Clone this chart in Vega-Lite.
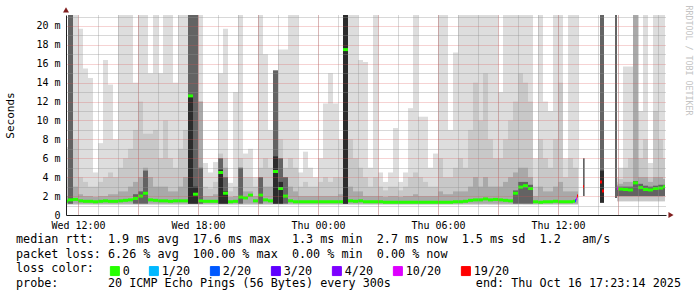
{
"$schema": "https://vega.github.io/schema/vega-lite/v6.json",
"width": 600, "height": 200,
"autosize": {"type": "none"},
"padding": {"left": 66, "top": 15, "right": 31, "bottom": 82},
"background": "white",
"config": {"view": {"stroke": null}, "font": "DejaVu Sans Mono"},
"title": {
 "text": ["median\u00a0rtt:\u00a0\u00a01.9\u00a0ms\u00a0avg\u00a0\u00a017.6\u00a0ms\u00a0max\u00a0\u00a0\u00a01.3\u00a0ms\u00a0min\u00a0\u00a02.7\u00a0ms\u00a0now\u00a0\u00a01.5\u00a0ms\u00a0sd\u00a0\u00a01.2\u00a0\u00a0\u00a0am/s",
          "packet\u00a0loss:\u00a06.26\u00a0%\u00a0avg\u00a0\u00a0100.00\u00a0%\u00a0max\u00a0\u00a00.00\u00a0%\u00a0min\u00a0\u00a00.00\u00a0%\u00a0now",
          "loss\u00a0color:",
          "probe:\u00a0\u00a0\u00a0\u00a0\u00a0\u00a0\u00a020\u00a0ICMP\u00a0Echo\u00a0Pings\u00a0(56\u00a0Bytes)\u00a0every\u00a0300s\u00a0\u00a0\u00a0\u00a0\u00a0\u00a0\u00a0\u00a0\u00a0\u00a0\u00a0\u00a0end:\u00a0Thu\u00a0Oct\u00a016\u00a017:23:14\u00a02025"],
 "orient": "bottom", "anchor": "start", "frame": "group", "align": "left", "dx": -50, "dy": -50, "offset": 6, "baseline": "top",
 "font": "DejaVu Sans Mono", "fontSize": 11.75, "fontWeight": "normal", "color": "#000000", "lineHeight": 14.5
},
"datasets": {"smoke": [
{"t":"2025-10-15T11:15","t2":"2025-10-15T11:30","lo":1.1,"lo2":1.2,"L":7.2,"M":4,"D":2,"med":1.45,"loss":"0"},
{"t":"2025-10-15T11:30","t2":"2025-10-15T11:45","lo":1.1,"lo2":1.2,"L":21.2,"M":21.2,"D":21.2,"K":21.2,"med":1.6,"loss":"0"},
{"t":"2025-10-15T11:45","t2":"2025-10-15T12:00","lo":1.1,"lo2":1.2,"L":21.2,"M":8,"D":3,"med":1.65,"loss":"0"},
{"t":"2025-10-15T12:00","t2":"2025-10-15T12:15","lo":1.1,"lo2":1.2,"L":19.7,"M":4,"D":2.2,"med":1.5,"loss":"0"},
{"t":"2025-10-15T12:15","t2":"2025-10-15T12:30","lo":1.1,"lo2":1.2,"L":15.5,"M":3.5,"D":2,"med":1.45,"loss":"0"},
{"t":"2025-10-15T12:30","t2":"2025-10-15T12:45","lo":1.1,"lo2":1.2,"L":14.5,"M":3,"D":2,"med":1.45,"loss":"0"},
{"t":"2025-10-15T12:45","t2":"2025-10-15T13:00","lo":1.1,"lo2":1.2,"L":4.5,"M":3,"D":1.9,"med":1.4,"loss":"0"},
{"t":"2025-10-15T13:00","t2":"2025-10-15T13:15","lo":1.1,"lo2":1.2,"L":7.6,"M":3.5,"D":2,"med":1.45,"loss":"0"},
{"t":"2025-10-15T13:15","t2":"2025-10-15T13:30","lo":1.1,"lo2":1.2,"L":16.4,"M":4,"D":2,"med":1.5,"loss":"0"},
{"t":"2025-10-15T13:30","t2":"2025-10-15T13:45","lo":1.1,"lo2":1.2,"L":13.8,"M":4.5,"D":2.2,"med":1.45,"loss":"0"},
{"t":"2025-10-15T13:45","t2":"2025-10-15T14:00","lo":1.1,"lo2":1.2,"L":8,"M":4,"D":2.2,"med":1.45,"loss":"0"},
{"t":"2025-10-15T14:00","t2":"2025-10-15T14:15","lo":1.1,"lo2":1.2,"L":21.2,"M":5,"D":2.5,"med":1.5,"loss":"0"},
{"t":"2025-10-15T14:15","t2":"2025-10-15T14:30","lo":1.1,"lo2":1.2,"L":21.2,"M":6,"D":2.5,"med":1.55,"loss":"0"},
{"t":"2025-10-15T14:30","t2":"2025-10-15T14:45","lo":1.1,"lo2":1.2,"L":21.2,"M":7,"D":3,"med":1.6,"loss":"0"},
{"t":"2025-10-15T14:45","t2":"2025-10-15T15:00","lo":1.1,"lo2":1.2,"L":14,"M":9,"D":3.5,"K":2.2,"med":1.75,"loss":"0"},
{"t":"2025-10-15T15:00","t2":"2025-10-15T15:15","lo":1.1,"lo2":1.2,"L":21.2,"M":12,"D":4,"K":2.5,"med":2.0,"loss":"0"},
{"t":"2025-10-15T15:15","t2":"2025-10-15T15:30","lo":1.1,"lo2":1.2,"L":21.2,"M":8.6,"D":5,"K":4.7,"med":2.3,"loss":"0"},
{"t":"2025-10-15T15:30","t2":"2025-10-15T15:45","lo":1.1,"lo2":1.2,"L":15,"M":8.6,"D":4,"med":1.6,"loss":"0"},
{"t":"2025-10-15T15:45","t2":"2025-10-15T16:00","lo":1.1,"lo2":1.2,"L":21.2,"M":9,"D":3,"med":1.55,"loss":"0"},
{"t":"2025-10-15T16:00","t2":"2025-10-15T16:15","lo":1.1,"lo2":1.2,"L":15,"M":6,"D":3,"med":1.5,"loss":"0"},
{"t":"2025-10-15T16:15","t2":"2025-10-15T16:30","lo":1.1,"lo2":1.2,"L":21.2,"M":10,"D":3,"med":1.5,"loss":"0"},
{"t":"2025-10-15T16:30","t2":"2025-10-15T16:45","lo":1.1,"lo2":1.2,"L":21.2,"M":6,"D":2.5,"med":1.45,"loss":"0"},
{"t":"2025-10-15T16:45","t2":"2025-10-15T17:00","lo":1.1,"lo2":1.2,"L":14,"M":5,"D":2.5,"med":1.5,"loss":"0"},
{"t":"2025-10-15T17:00","t2":"2025-10-15T17:15","lo":1.1,"lo2":1.2,"L":21.2,"M":7,"D":3,"med":1.5,"loss":"0"},
{"t":"2025-10-15T17:15","t2":"2025-10-15T17:30","lo":1.1,"lo2":1.2,"L":21.2,"M":9,"D":4,"med":1.5,"loss":"0"},
{"t":"2025-10-15T17:30","t2":"2025-10-15T17:45","lo":1.1,"lo2":1.2,"L":21.2,"M":21.2,"D":21.2,"K":21.2,"X":12.6,"med":12.6,"loss":"0"},
{"t":"2025-10-15T17:45","t2":"2025-10-15T18:00","lo":1.1,"lo2":1.2,"L":21.2,"M":21.2,"D":21.2,"K":21.2,"X":3,"med":2.2,"loss":"0"},
{"t":"2025-10-15T18:00","t2":"2025-10-15T18:15","lo":1.1,"lo2":1.2,"L":21.2,"M":12,"D":12,"K":5,"med":1.5,"loss":"0"},
{"t":"2025-10-15T18:15","t2":"2025-10-15T18:30","lo":1.1,"lo2":1.2,"L":5.5,"M":3,"D":2,"med":1.45,"loss":"0"},
{"t":"2025-10-15T18:30","t2":"2025-10-15T18:45","lo":1.1,"lo2":1.2,"L":4.5,"M":2.8,"D":2,"med":1.45,"loss":"0"},
{"t":"2025-10-15T18:45","t2":"2025-10-15T19:00","lo":1.1,"lo2":1.2,"L":5.6,"M":3.5,"D":2.2,"med":1.45,"loss":"0"},
{"t":"2025-10-15T19:00","t2":"2025-10-15T19:15","lo":1.1,"lo2":1.2,"L":15,"M":6.5,"D":6,"K":6,"X":4.8,"med":4.5,"loss":"0"},
{"t":"2025-10-15T19:15","t2":"2025-10-15T19:30","lo":1.1,"lo2":1.2,"L":19.7,"M":6,"D":5,"K":4,"X":2.5,"med":2.3,"loss":"0"},
{"t":"2025-10-15T19:30","t2":"2025-10-15T19:45","lo":1.1,"lo2":1.2,"L":3.4,"M":2.5,"D":1.9,"med":1.4,"loss":"0"},
{"t":"2025-10-15T19:45","t2":"2025-10-15T20:00","lo":1.1,"lo2":1.2,"L":13,"M":3,"D":2,"med":1.45,"loss":"0"},
{"t":"2025-10-15T20:00","t2":"2025-10-15T20:15","lo":1.1,"lo2":1.2,"L":21.2,"M":6,"D":5,"K":5,"med":1.9,"loss":"0"},
{"t":"2025-10-15T20:15","t2":"2025-10-15T20:30","lo":1.1,"lo2":1.2,"L":6.5,"M":4,"D":2.5,"med":1.8,"loss":"0"},
{"t":"2025-10-15T20:30","t2":"2025-10-15T20:45","lo":1.1,"lo2":1.2,"L":7,"M":4,"D":2.5,"med":2.1,"loss":"0"},
{"t":"2025-10-15T20:45","t2":"2025-10-15T21:00","lo":1.1,"lo2":1.2,"L":4,"M":3,"D":2,"med":1.5,"loss":"0"},
{"t":"2025-10-15T21:00","t2":"2025-10-15T21:15","lo":1.1,"lo2":1.2,"L":21.2,"M":5,"D":4,"K":4,"med":2.1,"loss":"0"},
{"t":"2025-10-15T21:15","t2":"2025-10-15T21:30","lo":1.1,"lo2":1.2,"L":17,"M":6,"D":3,"med":1.6,"loss":"0"},
{"t":"2025-10-15T21:30","t2":"2025-10-15T21:45","lo":1.1,"lo2":1.2,"L":9,"M":5,"D":3,"med":1.5,"loss":"0"},
{"t":"2025-10-15T21:45","t2":"2025-10-15T22:00","lo":1.1,"lo2":1.2,"L":15.3,"M":15.3,"D":15.3,"K":15.3,"X":6.2,"med":4.6,"loss":"0"},
{"t":"2025-10-15T22:00","t2":"2025-10-15T22:15","lo":1.1,"lo2":1.2,"L":17.5,"M":8,"D":6,"K":6,"X":3.5,"med":2.8,"loss":"0"},
{"t":"2025-10-15T22:15","t2":"2025-10-15T22:30","lo":1.1,"lo2":1.2,"L":17.5,"M":5,"D":4,"K":4,"med":2.0,"loss":"0"},
{"t":"2025-10-15T22:30","t2":"2025-10-15T22:45","lo":1.1,"lo2":1.2,"L":21.2,"M":6,"D":3,"med":1.5,"loss":"0"},
{"t":"2025-10-15T22:45","t2":"2025-10-15T23:00","lo":1.1,"lo2":1.2,"L":21.2,"M":5,"D":2.5,"med":1.4,"loss":"0"},
{"t":"2025-10-15T23:00","t2":"2025-10-15T23:15","lo":1.1,"lo2":1.2,"L":4.5,"M":3,"D":2,"med":1.4,"loss":"0"},
{"t":"2025-10-15T23:15","t2":"2025-10-15T23:30","lo":1.1,"lo2":1.2,"L":6.7,"M":3.5,"D":2,"med":1.4,"loss":"0"},
{"t":"2025-10-15T23:30","t2":"2025-10-15T23:45","lo":1.1,"lo2":1.2,"L":5,"M":3,"D":2,"med":1.4,"loss":"0"},
{"t":"2025-10-15T23:45","t2":"2025-10-16T00:00","lo":1.1,"lo2":1.2,"L":4,"M":3,"D":2,"med":1.4,"loss":"0"},
{"t":"2025-10-16T00:00","t2":"2025-10-16T00:15","lo":1.1,"lo2":1.2,"L":6,"M":3.5,"D":2,"med":1.4,"loss":"0"},
{"t":"2025-10-16T00:15","t2":"2025-10-16T00:30","lo":1.1,"lo2":1.2,"L":11.8,"M":4,"D":2,"med":1.4,"loss":"0"},
{"t":"2025-10-16T00:30","t2":"2025-10-16T00:45","lo":1.1,"lo2":1.2,"L":15,"M":3.5,"D":2,"med":1.4,"loss":"0"},
{"t":"2025-10-16T00:45","t2":"2025-10-16T01:00","lo":1.1,"lo2":1.2,"L":11.8,"M":4,"D":2,"med":1.4,"loss":"0"},
{"t":"2025-10-16T01:00","t2":"2025-10-16T01:15","lo":1.1,"lo2":1.2,"L":8,"M":4,"D":2.2,"med":1.4,"loss":"0"},
{"t":"2025-10-16T01:15","t2":"2025-10-16T01:30","lo":1.1,"lo2":1.2,"L":21.2,"M":21.2,"D":21.2,"K":21.2,"X":21.2,"med":17.5,"loss":"0"},
{"t":"2025-10-16T01:30","t2":"2025-10-16T01:45","lo":1.1,"lo2":1.2,"L":21.2,"M":8,"D":3,"med":1.5,"loss":"0"},
{"t":"2025-10-16T01:45","t2":"2025-10-16T02:00","lo":1.1,"lo2":1.2,"L":21.2,"M":6,"D":2.5,"med":1.45,"loss":"0"},
{"t":"2025-10-16T02:00","t2":"2025-10-16T02:15","lo":1.1,"lo2":1.2,"L":16.4,"M":5,"D":2.5,"med":1.5,"loss":"0"},
{"t":"2025-10-16T02:15","t2":"2025-10-16T02:30","lo":1.1,"lo2":1.2,"L":16.2,"M":4,"D":2,"med":1.4,"loss":"0"},
{"t":"2025-10-16T02:30","t2":"2025-10-16T02:45","lo":1.1,"lo2":1.2,"L":5,"M":3,"D":2,"med":1.4,"loss":"0"},
{"t":"2025-10-16T02:45","t2":"2025-10-16T03:00","lo":1.1,"lo2":1.2,"L":21.2,"M":4,"D":2,"med":1.4,"loss":"0"},
{"t":"2025-10-16T03:00","t2":"2025-10-16T03:15","lo":1.1,"lo2":1.2,"L":4.5,"M":3,"D":2,"med":1.4,"loss":"0"},
{"t":"2025-10-16T03:15","t2":"2025-10-16T03:30","lo":1.1,"lo2":1.2,"L":3.5,"M":2.6,"D":1.9,"med":1.35,"loss":"0"},
{"t":"2025-10-16T03:30","t2":"2025-10-16T03:45","lo":1.1,"lo2":1.2,"L":4.5,"M":3,"D":2,"med":1.35,"loss":"0"},
{"t":"2025-10-16T03:45","t2":"2025-10-16T04:00","lo":1.1,"lo2":1.2,"L":9.2,"M":3,"D":2,"med":1.35,"loss":"0"},
{"t":"2025-10-16T04:00","t2":"2025-10-16T04:15","lo":1.1,"lo2":1.2,"L":3.5,"M":2.6,"D":1.9,"med":1.35,"loss":"0"},
{"t":"2025-10-16T04:15","t2":"2025-10-16T04:30","lo":1.1,"lo2":1.2,"L":4.5,"M":3,"D":2,"med":1.35,"loss":"0"},
{"t":"2025-10-16T04:30","t2":"2025-10-16T04:45","lo":1.1,"lo2":1.2,"L":11.3,"M":4,"D":2,"med":1.35,"loss":"0"},
{"t":"2025-10-16T04:45","t2":"2025-10-16T05:00","lo":1.1,"lo2":1.2,"L":21.2,"M":4.5,"D":2.2,"med":1.35,"loss":"0"},
{"t":"2025-10-16T05:00","t2":"2025-10-16T05:15","lo":1.1,"lo2":1.2,"L":10.4,"M":4,"D":2,"med":1.35,"loss":"0"},
{"t":"2025-10-16T05:15","t2":"2025-10-16T05:30","lo":1.1,"lo2":1.2,"L":10.4,"M":3.5,"D":2,"med":1.35,"loss":"0"},
{"t":"2025-10-16T05:30","t2":"2025-10-16T05:45","lo":1.1,"lo2":1.2,"L":5,"M":3,"D":2,"med":1.35,"loss":"0"},
{"t":"2025-10-16T05:45","t2":"2025-10-16T06:00","lo":1.1,"lo2":1.2,"L":6.5,"M":3,"D":2,"med":1.35,"loss":"0"},
{"t":"2025-10-16T06:00","t2":"2025-10-16T06:15","lo":1.1,"lo2":1.2,"L":21.2,"M":6,"D":2.5,"med":1.35,"loss":"0"},
{"t":"2025-10-16T06:15","t2":"2025-10-16T06:30","lo":1.1,"lo2":1.2,"L":21.2,"M":4,"D":2.2,"med":1.35,"loss":"0"},
{"t":"2025-10-16T06:30","t2":"2025-10-16T06:45","lo":1.1,"lo2":1.2,"L":9,"M":4,"D":2.2,"med":1.35,"loss":"0"},
{"t":"2025-10-16T06:45","t2":"2025-10-16T07:00","lo":1.1,"lo2":1.2,"L":17.2,"M":5,"D":2.5,"med":1.4,"loss":"0"},
{"t":"2025-10-16T07:00","t2":"2025-10-16T07:15","lo":1.1,"lo2":1.2,"L":21.2,"M":6,"D":2.5,"med":1.4,"loss":"0"},
{"t":"2025-10-16T07:15","t2":"2025-10-16T07:30","lo":1.1,"lo2":1.2,"L":21.2,"M":5,"D":2.5,"med":1.45,"loss":"0"},
{"t":"2025-10-16T07:30","t2":"2025-10-16T07:45","lo":1.1,"lo2":1.2,"L":21.2,"M":9,"D":3,"med":1.55,"loss":"0"},
{"t":"2025-10-16T07:45","t2":"2025-10-16T08:00","lo":1.1,"lo2":1.2,"L":21.2,"M":14,"D":4,"med":1.6,"loss":"0"},
{"t":"2025-10-16T08:00","t2":"2025-10-16T08:15","lo":1.1,"lo2":1.2,"L":21.2,"M":10,"D":3,"med":1.6,"loss":"0"},
{"t":"2025-10-16T08:15","t2":"2025-10-16T08:30","lo":1.1,"lo2":1.2,"L":21.2,"M":15,"D":4,"med":1.7,"loss":"0"},
{"t":"2025-10-16T08:30","t2":"2025-10-16T08:45","lo":1.1,"lo2":1.2,"L":21.2,"M":8,"D":3,"med":1.6,"loss":"0"},
{"t":"2025-10-16T08:45","t2":"2025-10-16T09:00","lo":1.1,"lo2":1.2,"L":21.2,"M":6,"D":3,"med":1.65,"loss":"0"},
{"t":"2025-10-16T09:00","t2":"2025-10-16T09:15","lo":1.1,"lo2":1.2,"L":13,"M":6,"D":3,"med":1.6,"loss":"0"},
{"t":"2025-10-16T09:15","t2":"2025-10-16T09:30","lo":1.1,"lo2":1.2,"L":21.2,"M":8,"D":3.5,"med":1.55,"loss":"0"},
{"t":"2025-10-16T09:30","t2":"2025-10-16T09:45","lo":1.1,"lo2":1.2,"L":21.2,"M":10,"D":4,"med":1.5,"loss":"0"},
{"t":"2025-10-16T09:45","t2":"2025-10-16T10:00","lo":1.1,"lo2":1.2,"L":21.2,"M":12,"D":4.5,"K":2.6,"med":2.3,"loss":"0"},
{"t":"2025-10-16T10:00","t2":"2025-10-16T10:15","lo":1.1,"lo2":1.2,"L":21.2,"M":15,"D":5,"K":3.5,"med":2.95,"loss":"0"},
{"t":"2025-10-16T10:15","t2":"2025-10-16T10:30","lo":1.1,"lo2":1.2,"L":21.2,"M":14,"D":5,"K":3.5,"med":3.1,"loss":"0"},
{"t":"2025-10-16T10:30","t2":"2025-10-16T10:45","lo":1.1,"lo2":1.2,"L":21.2,"M":12,"D":4,"K":3.2,"med":2.8,"loss":"0"},
{"t":"2025-10-16T10:45","t2":"2025-10-16T11:00","lo":1.1,"lo2":1.2,"L":6,"M":3,"D":2,"med":1.4,"loss":"0"},
{"t":"2025-10-16T11:00","t2":"2025-10-16T11:15","lo":1.1,"lo2":1.2,"L":21.2,"M":8,"D":3,"med":1.35,"loss":"0"},
{"t":"2025-10-16T11:15","t2":"2025-10-16T11:30","lo":1.1,"lo2":1.2,"L":12,"M":6,"D":2.5,"med":1.4,"loss":"0"},
{"t":"2025-10-16T11:30","t2":"2025-10-16T11:45","lo":1.1,"lo2":1.2,"L":11,"M":5,"D":2.5,"med":1.4,"loss":"0"},
{"t":"2025-10-16T11:45","t2":"2025-10-16T12:00","lo":1.1,"lo2":1.2,"L":21.2,"M":8,"D":3,"med":1.45,"loss":"0"},
{"t":"2025-10-16T12:00","t2":"2025-10-16T12:15","lo":1.1,"lo2":1.2,"L":21.2,"M":14,"D":3.5,"med":1.4,"loss":"0"},
{"t":"2025-10-16T12:15","t2":"2025-10-16T12:30","lo":1.1,"lo2":1.2,"L":6,"M":4,"D":2.5,"med":1.4,"loss":"0"},
{"t":"2025-10-16T12:30","t2":"2025-10-16T12:45","lo":1.1,"lo2":1.2,"L":21.2,"M":6,"D":2.5,"med":1.4,"loss":"0"},
{"t":"2025-10-16T12:45","t2":"2025-10-16T13:00","lo":1.1,"lo2":1.2,"L":21.2,"M":5,"D":2.5},
{"t":"2025-10-16T12:45","t2":"2025-10-16T12:51","med":1.45,"loss":"0"},
{"t":"2025-10-16T12:51","t2":"2025-10-16T12:54","med":1.5,"loss":"2/20"},
{"t":"2025-10-16T12:54","t2":"2025-10-16T12:57","med":1.7,"loss":"10/20"},
{"t":"2025-10-16T12:57","t2":"2025-10-16T13:00","med":2.0,"loss":"19/20"},
{"t":"2025-10-16T13:15","t2":"2025-10-16T13:20","lo2":2.0,"K":6},
{"t":"2025-10-16T13:15","t2":"2025-10-16T13:18","med":3.0,"loss":"19/20"},
{"t":"2025-10-16T14:06","t2":"2025-10-16T14:18","lo2":1.3,"K":21.2,"X":4.7},
{"t":"2025-10-16T14:06","t2":"2025-10-16T14:12","med":3.5,"loss":"19/20"},
{"t":"2025-10-16T14:12","t2":"2025-10-16T14:18","med":2.55,"loss":"19/20"},
{"t":"2025-10-16T14:51","t2":"2025-10-16T14:57","lo2":1.8,"K":21.2},
{"t":"2025-10-16T14:57","t2":"2025-10-16T15:00","lo":1.45,"lo2":2.0,"L":4,"M":3.5,"D":3.2,"K":3.0,"med":2.8,"loss":"10/20"},
{"t":"2025-10-16T15:00","t2":"2025-10-16T15:15","lo":1.45,"lo2":2.0,"L":5,"M":3.8,"D":3.3,"K":3.0,"med":2.75,"loss":"0"},
{"t":"2025-10-16T15:15","t2":"2025-10-16T15:30","lo":1.45,"lo2":2.0,"L":15.7,"M":5,"D":3.5,"K":3.0,"med":2.7,"loss":"0"},
{"t":"2025-10-16T15:30","t2":"2025-10-16T15:45","lo":1.45,"lo2":2.0,"L":15.7,"M":6,"D":3.5,"K":3.0,"med":2.65,"loss":"0"},
{"t":"2025-10-16T15:45","t2":"2025-10-16T16:00","lo":1.45,"lo2":2.0,"L":21.2,"M":21.2,"D":21.2,"K":3.6,"med":3.4,"loss":"0"},
{"t":"2025-10-16T16:00","t2":"2025-10-16T16:15","lo":1.45,"lo2":2.0,"L":11,"M":6,"D":4,"K":3.3,"med":2.9,"loss":"0"},
{"t":"2025-10-16T16:15","t2":"2025-10-16T16:30","lo":1.45,"lo2":2.0,"L":21.2,"M":8,"D":4,"K":3.1,"med":2.7,"loss":"0"},
{"t":"2025-10-16T16:30","t2":"2025-10-16T16:45","lo":1.45,"lo2":2.0,"L":5.5,"M":4,"D":3.5,"K":3.0,"med":2.65,"loss":"0"},
{"t":"2025-10-16T16:45","t2":"2025-10-16T17:00","lo":1.45,"lo2":2.0,"L":21.2,"M":11,"D":4,"K":3.1,"med":2.8,"loss":"0"},
{"t":"2025-10-16T17:00","t2":"2025-10-16T17:15","lo":1.45,"lo2":2.0,"L":21.2,"M":8,"D":4,"K":3.2,"med":2.85,"loss":"0"},
{"t":"2025-10-16T17:15","t2":"2025-10-16T17:21","lo":1.45,"lo2":2.0,"L":21.2,"M":6,"D":3.8,"K":3.2,"med":3.0,"loss":"0"}
]},
"data": {"name": "smoke"},
"layer": [
 {
  "transform": [{"filter": "isValid(datum.L)"}],
  "mark": {"type": "rect", "color": "#dddddd", "clip": true},
  "encoding": {
   "x": {"field": "t", "type": "temporal",
         "scale": {"domain": [{"year": 2025, "month": 10, "date": 15, "hours": 11, "minutes": 24}, {"year": 2025, "month": 10, "date": 16, "hours": 17, "minutes": 24}]},
         "axis": {"orient": "bottom",
                  "values": [{"year":2025,"month":10,"date":15,"hours":12},{"year":2025,"month":10,"date":15,"hours":13},{"year":2025,"month":10,"date":15,"hours":14},{"year":2025,"month":10,"date":15,"hours":15},{"year":2025,"month":10,"date":15,"hours":16},{"year":2025,"month":10,"date":15,"hours":17},{"year":2025,"month":10,"date":15,"hours":18},{"year":2025,"month":10,"date":15,"hours":19},{"year":2025,"month":10,"date":15,"hours":20},{"year":2025,"month":10,"date":15,"hours":21},{"year":2025,"month":10,"date":15,"hours":22},{"year":2025,"month":10,"date":15,"hours":23},{"year":2025,"month":10,"date":16,"hours":0},{"year":2025,"month":10,"date":16,"hours":1},{"year":2025,"month":10,"date":16,"hours":2},{"year":2025,"month":10,"date":16,"hours":3},{"year":2025,"month":10,"date":16,"hours":4},{"year":2025,"month":10,"date":16,"hours":5},{"year":2025,"month":10,"date":16,"hours":6},{"year":2025,"month":10,"date":16,"hours":7},{"year":2025,"month":10,"date":16,"hours":8},{"year":2025,"month":10,"date":16,"hours":9},{"year":2025,"month":10,"date":16,"hours":10},{"year":2025,"month":10,"date":16,"hours":11},{"year":2025,"month":10,"date":16,"hours":12},{"year":2025,"month":10,"date":16,"hours":13},{"year":2025,"month":10,"date":16,"hours":14},{"year":2025,"month":10,"date":16,"hours":15},{"year":2025,"month":10,"date":16,"hours":16},{"year":2025,"month":10,"date":16,"hours":17}],
                  "grid": true, "gridColor": "#8f8f8f", "gridOpacity": 0.7, "gridDash": [1, 1], "labels": false, "ticks": false, "domain": false, "title": null, "zindex": 1}},
   "x2": {"field": "t2"},
   "y": {"field": "lo", "type": "quantitative", "scale": {"domain": [0, 21.16], "nice": false},
         "axis": {"orient": "left", "values": [1, 3, 5, 7, 9, 11, 13, 15, 17, 19, 21], "grid": true, "gridColor": "#8f8f8f", "gridOpacity": 0.7, "gridDash": [1, 1], "labels": false, "ticks": false, "domain": false, "title": null, "zindex": 1}},
   "y2": {"field": "L"}
  }
 },
 {
  "transform": [{"filter": "isValid(datum.M)"}],
  "mark": {"type": "rect", "color": "#c8c8c8", "clip": true},
  "encoding": {
   "x": {"field": "t", "type": "temporal",
         "axis": {"orient": "bottom",
                  "values": [{"year":2025,"month":10,"date":15,"hours":12},{"year":2025,"month":10,"date":15,"hours":15},{"year":2025,"month":10,"date":15,"hours":18},{"year":2025,"month":10,"date":15,"hours":21},{"year":2025,"month":10,"date":16,"hours":0},{"year":2025,"month":10,"date":16,"hours":3},{"year":2025,"month":10,"date":16,"hours":6},{"year":2025,"month":10,"date":16,"hours":9},{"year":2025,"month":10,"date":16,"hours":12},{"year":2025,"month":10,"date":16,"hours":15}],
                  "grid": true, "gridColor": "#de4f4f", "gridOpacity": 0.5, "gridDash": [1, 1], "labels": false, "ticks": false, "domain": false, "title": null, "zindex": 1}},
   "x2": {"field": "t2"},
   "y": {"field": "lo", "type": "quantitative",
         "axis": {"orient": "left", "values": [2, 4, 6, 8, 10, 12, 14, 16, 18, 20], "grid": true, "gridColor": "#de4f4f", "gridOpacity": 0.5, "gridDash": [1, 1], "labels": false, "ticks": false, "domain": false, "title": null, "zindex": 1}},
   "y2": {"field": "M"}
  }
 },
 {
  "transform": [{"filter": "isValid(datum.D)"}],
  "mark": {"type": "rect", "color": "#a9a9a9", "clip": true},
  "encoding": {
   "x": {"field": "t", "type": "temporal",
         "axis": {"orient": "bottom",
                  "values": [{"year":2025,"month":10,"date":15,"hours":12},{"year":2025,"month":10,"date":15,"hours":18},{"year":2025,"month":10,"date":16,"hours":0},{"year":2025,"month":10,"date":16,"hours":6},{"year":2025,"month":10,"date":16,"hours":12}],
                  "format": "%a %H:%M", "grid": false,
                  "labelFont": "DejaVu Sans Mono", "labelFontSize": 10, "labelColor": "#000000", "labelPadding": 5, "labelOverlap": false,
                  "ticks": false, "domain": true, "domainColor": "#1f1f1f", "title": null, "zindex": 1}},
   "x2": {"field": "t2"},
   "y": {"field": "lo2", "type": "quantitative",
         "axis": {"orient": "left", "values": [0, 2, 4, 6, 8, 10, 12, 14, 16, 18, 20], "grid": false,
                  "labelExpr": "datum.value == 0 ? '0' : datum.value + ' m'",
                  "labelFont": "DejaVu Sans Mono", "labelFontSize": 10, "labelColor": "#000000", "labelPadding": 6,
                  "ticks": false, "domain": true, "domainColor": "#1f1f1f",
                  "title": "Seconds", "titleFont": "DejaVu Sans Mono", "titleFontSize": 11, "titleFontWeight": "normal", "titleColor": "#000000",
                  "titleX": -56, "titleY": 100, "titleAngle": -90, "titleAlign": "center", "titleBaseline": "middle", "zindex": 1}},
   "y2": {"field": "D"}
  }
 },
 {
  "transform": [{"filter": "isValid(datum.K)"}],
  "mark": {"type": "rect", "color": "#636363", "clip": true},
  "encoding": {
   "x": {"field": "t", "type": "temporal", "axis": null},
   "x2": {"field": "t2"},
   "y": {"field": "lo2", "type": "quantitative",
         "axis": {"orient": "right", "grid": false, "labels": false, "ticks": false, "domain": false,
                  "title": "RRDTOOL / TOBI OETIKER", "titleFont": "DejaVu Sans Mono", "titleFontSize": 8.3, "titleFontWeight": "normal", "titleColor": "#c4c4c4",
                  "titleAngle": 90, "titleX": 21, "titleY": -10, "titleAlign": "left", "titleBaseline": "middle"}},
   "y2": {"field": "K"}
  }
 },
 {
  "transform": [{"filter": "isValid(datum.X)"}],
  "mark": {"type": "rect", "color": "#2b2b2b", "clip": true},
  "encoding": {
   "x": {"field": "t", "type": "temporal", "axis": null},
   "x2": {"field": "t2"},
   "y": {"field": "lo2", "type": "quantitative", "axis": null},
   "y2": {"field": "X"}
  }
 },
 {
  "transform": [{"filter": "isValid(datum.med)"}],
  "mark": {"type": "rule", "strokeWidth": 3, "clip": true},
  "encoding": {
   "x": {"field": "t", "type": "temporal", "axis": null},
   "x2": {"field": "t2"},
   "y": {"field": "med", "type": "quantitative", "axis": null},
   "color": {"field": "loss", "type": "nominal",
     "scale": {"domain": ["0", "1/20", "2/20", "3/20", "4/20", "10/20", "19/20"], "range": ["#26ff00", "#00b8ff", "#0059ff", "#5e00ff", "#7e00ff", "#dd00ff", "#ff0000"]},
     "legend": {"orient": "none", "legendX": 43, "legendY": 250, "direction": "horizontal", "title": null,
                "labelFont": "DejaVu Sans Mono", "labelFontSize": 11.75, "labelColor": "#000000", "labelOffset": 2, "columnPadding": 17,
                "symbolType": "square", "symbolSize": 81, "symbolStrokeWidth": 1, "padding": 0,
                "encode": {"symbols": {"update": {"fill": {"scale": "color", "field": "value"}, "stroke": {"value": "#000000"}, "strokeWidth": {"value": 1}}}}}
   }
  }
 },
 {
  "data": {"values": [{"a": 1}]},
  "mark": {"type": "point", "shape": "triangle-up", "filled": true, "color": "#801f1f", "size": 35, "opacity": 1},
  "encoding": {
   "x": {"datum": {"year": 2025, "month": 10, "date": 15, "hours": 11, "minutes": 24}, "type": "temporal", "axis": null},
   "y": {"datum": 21.7, "type": "quantitative", "axis": null}
  }
 },
 {
  "data": {"values": [{"a": 1}]},
  "mark": {"type": "point", "shape": "triangle-right", "filled": true, "color": "#801f1f", "size": 35, "opacity": 1},
  "encoding": {
   "x": {"datum": {"year": 2025, "month": 10, "date": 16, "hours": 17, "minutes": 39}, "type": "temporal", "axis": null},
   "y": {"datum": 0, "type": "quantitative", "axis": null}
  }
 }
],
"resolve": {"axis": {"x": "independent", "y": "independent"}}
}
